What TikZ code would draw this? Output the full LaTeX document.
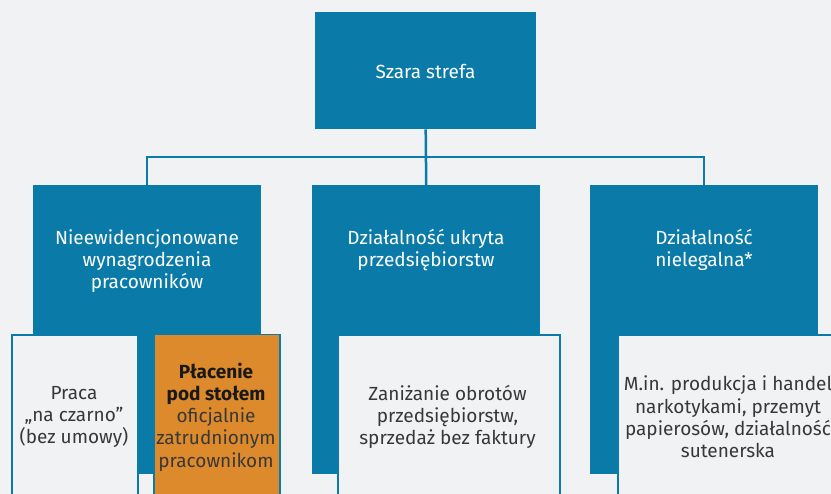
\documentclass[tikz,border=0pt]{standalone}
\usepackage{fontspec}
\setmainfont{Fira Sans}
\definecolor{bg}{HTML}{F1F2F4}
\definecolor{blu}{HTML}{0A7BA8}
\definecolor{org}{HTML}{DD8A2C}
\definecolor{txt}{HTML}{383838}
\tikzset{
  bluebox/.style={fill=blu, inner sep=0pt, anchor=north west},
  whitebox/.style={fill=bg, draw=blu, line width=2pt, inner sep=0pt, anchor=north west},
  orangebox/.style={fill=org, draw=blu, line width=1.5pt, inner sep=0pt, anchor=north west},
  conn/.style={draw=blu, line width=2.5pt},
  wtext/.style={text=white, font=\fontsize{19}{22.3}\selectfont, align=center, inner sep=0pt},
  dtext/.style={text=txt, font=\fontsize{19}{22.3}\selectfont, align=center, inner sep=0pt}
}
\begin{document}
\begin{tikzpicture}[x=1pt,y=-1pt]
\useasboundingbox (0,0) rectangle (831,494);
\fill[bg] (0,0) rectangle (831,494);
\clip (0,0) rectangle (831,494);
% top
\node[bluebox, minimum width=221pt, minimum height=117pt] (top) at (315,12) {};
\node[wtext] (toptxt) at (425.5,71) {Szara strefa};
% middle blue boxes
\node[bluebox, minimum width=228pt, minimum height=289pt] (m1) at (33,185) {};
\node[bluebox, minimum width=228pt, minimum height=289pt] (m2) at (312,185) {};
\node[bluebox, minimum width=228pt, minimum height=289pt] (m3) at (590,185) {};
\node[wtext, anchor=north] (m1t) at (147,229) {Nieewidencjonowane\\wynagrodzenia\\pracowników};
\node[wtext, anchor=north] (m2t) at (426,229) {Działalność ukryta\\przedsiębiorstw};
\node[wtext, anchor=north] (m3t) at (704,229) {Działalność\\nielegalna*};
% connectors
\coordinate (bus) at (425.5,157);
\draw[conn] (top.south) -- (m2.north);
\draw[conn] (m1.north) -- (m1.north |- bus) -- (m3.north |- bus) -- (m3.north);
% lower boxes
\node[whitebox, minimum width=126pt, minimum height=180pt] (b1) at (11,334) {};
\node[orangebox, minimum width=126pt, minimum height=180pt] (b2) at (153,334) {};
\node[whitebox, minimum width=222pt, minimum height=180pt] (b3) at (336.5,334) {};
\node[whitebox, minimum width=222pt, minimum height=180pt] (b4) at (617,334) {};
\node[dtext] (b1t) at (74,417) {Praca\\„na czarno”\\(bez umowy)};
\node[dtext] (b2t) at (216,417) {\textbf{\color{black!90}Płacenie}\\\textbf{\color{black!90}pod stołem}\\oficjalnie\\zatrudnionym\\pracownikom};
\node[dtext] (b3t) at (447.5,417) {Zaniżanie obrotów\\przedsiębiorstw,\\sprzedaż bez faktury};
\node[dtext] (b4t) at (728,417) {M.in. produkcja i handel\\narkotykami, przemyt\\papierosów, działalność\\sutenerska};
\end{tikzpicture}
\end{document}
